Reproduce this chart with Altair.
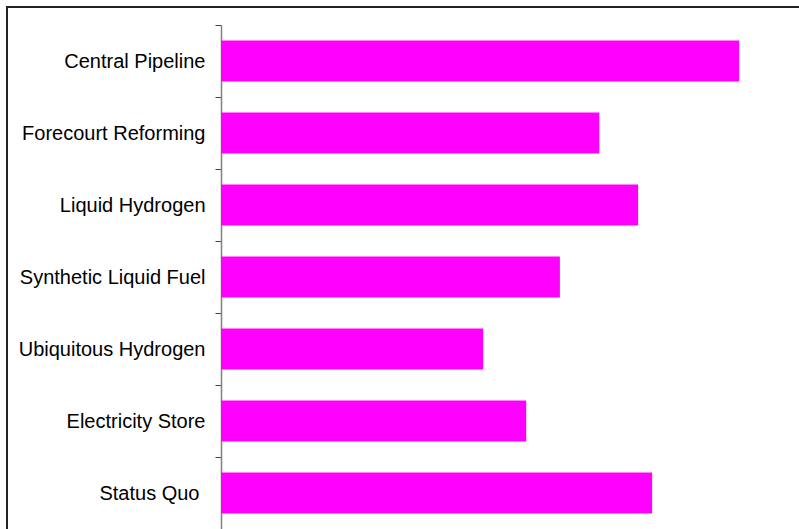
import altair as alt
import pandas as pd

# Scenario scores, listed top to bottom as drawn
scenarios = [
    "Central Pipeline",
    "Forecourt Reforming",
    "Liquid Hydrogen",
    "Synthetic Liquid Fuel",
    "Ubiquitous Hydrogen",
    "Electricity Store",
    "Status Quo",
]
scores = [100.0, 73.0, 80.5, 65.4, 50.6, 58.9, 83.2]

df = pd.DataFrame({"scenario": scenarios, "score": scores})

# "Status Quo" sits a little further from the axis than the other labels
label_pad = {
    "condition": {"test": "datum.value == 'Status Quo'", "value": 16},
    "value": 10,
}

bars = alt.Chart(df).mark_bar(color="#FF00FF").encode(
    x=alt.X("score:Q", scale=alt.Scale(domain=[0, 110], nice=False, zero=True), axis=None),
    y=alt.Y(
        "scenario:N",
        sort=scenarios,
        scale=alt.Scale(paddingInner=0.43, paddingOuter=0.215),
        axis=alt.Axis(
            title=None,
            domainColor="#808080",
            domainWidth=1.5,
            tickColor="#404040",
            tickSize=6,
            tickOffset=-36,
            labelOffset=36,
            labelPadding=label_pad,
            labelLimit=400,
            labelFont="Liberation Sans",
            labelFontSize=20,
            labelColor="#000000",
        ),
    ),
)

# Outer frame lines (top and left edges of the chart box)
frame = alt.Data(values=[{}])
top_edge = alt.Chart(frame).mark_rule(color="#222222", strokeWidth=2).encode(
    x=alt.value(-214), x2=alt.value(600), y=alt.value(-18)
)
left_edge = alt.Chart(frame).mark_rule(color="#222222", strokeWidth=2).encode(
    x=alt.value(-214), y=alt.value(-19), y2=alt.value(520)
)

chart = (
    alt.layer(bars, top_edge, left_edge)
    .properties(
        width=570,
        height=504,
        padding={"left": 221, "top": 25, "right": 8, "bottom": 0},
        autosize=alt.AutoSizeParams(type="none"),
        background="#FFFFFF",
    )
    .configure_view(stroke=None)
)

chart.save("out.html", embed_options={"renderer": "svg", "actions": False})
